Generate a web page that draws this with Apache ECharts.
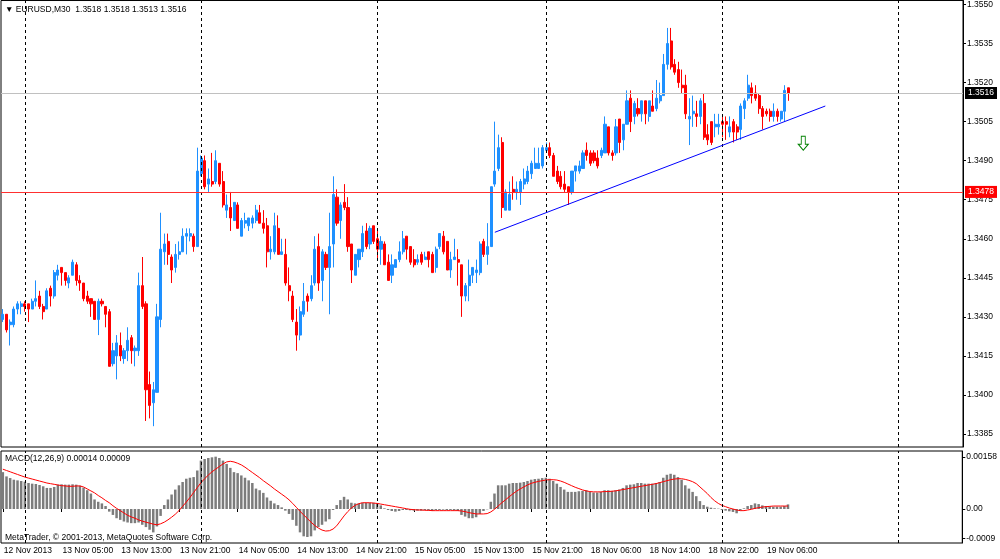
<!DOCTYPE html>
<html>
<head>
<meta charset="utf-8">
<script src="https://cdn.jsdelivr.net/npm/echarts@6/dist/echarts.min.js"></script>
<style>
  html, body { margin: 0; padding: 0; background: #fff; }
  #main { width: 1000px; height: 559px; }
</style>
</head>
<body>
<div id="main"></div>
<script>
// EURUSD M30, 12 Nov 21:00 .. 19 Nov 09:00 (one entry per bar)
var opens = [
1.3429,1.3431,1.3427,1.3427,1.3433,1.3434,1.3435,1.3435,1.3433,1.3436,
1.3438,1.3434,1.3433,1.3441,1.3438,1.3446,1.3449,1.3447,1.3443,1.3446,
1.3450,1.3444,1.3443,1.3438,1.3437,1.3436,1.3429,1.3436,1.3434,1.3432,
1.3412,1.3415,1.3419,1.3414,1.3417,1.3422,1.3417,1.3417,1.3442,1.3435,
1.3404,1.3397,1.3401,1.3429,1.3455,1.3459,1.3453,1.3449,1.3454,1.3455,
1.3461,1.3461,1.3461,1.3457,1.3485,1.3490,1.3481,1.3482,1.3482,1.3489,
1.3482,1.3471,1.3472,1.3467,1.3473,1.3461,1.3466,1.3465,1.3466,1.3467,
1.3470,1.3466,1.3465,1.3455,1.3455,1.3464,1.3454,1.3454,1.3442,1.3438,
1.3428,1.3423,1.3431,1.3438,1.3437,1.3443,1.3457,1.3444,1.3454,1.3449,
1.3458,1.3476,1.3467,1.3474,1.3472,1.3458,1.3446,1.3452,1.3455,1.3463,
1.3458,1.3465,1.3460,1.3456,1.3458,1.3451,1.3446,1.3449,1.3452,1.3455,
1.3461,1.3457,1.3452,1.3451,1.3454,1.3452,1.3455,1.3454,1.3449,1.3457,
1.3461,1.3459,1.3448,1.3452,1.3452,1.3450,1.3438,1.3442,1.3446,1.3447,
1.3447,1.3459,1.3454,1.3457,1.3481,1.3487,1.3497,1.3471,1.3471,1.3479,
1.3478,1.3478,1.3481,1.3482,1.3485,1.3487,1.3487,1.3488,1.3494,1.3495,
1.3492,1.3486,1.3484,1.3481,1.3480,1.3478,1.3486,1.3486,1.3487,1.3494,
1.3493,1.3493,1.3491,1.3492,1.3493,1.3503,1.3493,1.3493,1.3506,1.3498,
1.3504,1.3514,1.3507,1.3510,1.3508,1.3513,1.3507,1.3511,1.3510,1.3513,
1.3515,1.3527,1.3536,1.3527,1.3525,1.3519,1.3519,1.3506,1.3508,1.3508,
1.3507,1.3512,1.3500,1.3505,1.3503,1.3503,1.3505,1.3505,1.3501,1.3505,
1.3503,1.3502,1.3510,1.3514,1.3518,1.3516,1.3515,1.3510,1.3509,1.3509,
1.3507,1.3509,1.3506,1.3509,1.3518
];
var closes = [
1.3431,1.3425,1.3428,1.3433,1.3435,1.3435,1.3434,1.3433,1.3436,1.3437,
1.3434,1.3432,1.3440,1.3438,1.3447,1.3448,1.3447,1.3444,1.3445,1.3451,
1.3444,1.3443,1.3437,1.3436,1.3435,1.3429,1.3436,1.3435,1.3431,1.3411,
1.3417,1.3420,1.3415,1.3417,1.3421,1.3417,1.3418,1.3442,1.3434,1.3402,
1.3396,1.3402,1.3430,1.3456,1.3458,1.3454,1.3448,1.3454,1.3455,1.3461,
1.3462,1.3462,1.3457,1.3486,1.3491,1.3480,1.3483,1.3481,1.3490,1.3481,
1.3473,1.3473,1.3468,1.3474,1.3464,1.3467,1.3467,1.3468,1.3468,1.3471,
1.3466,1.3464,1.3455,1.3456,1.3465,1.3454,1.3455,1.3443,1.3440,1.3429,
1.3423,1.3432,1.3436,1.3436,1.3442,1.3456,1.3443,1.3455,1.3449,1.3457,
1.3477,1.3466,1.3473,1.3472,1.3457,1.3448,1.3454,1.3456,1.3462,1.3457,
1.3464,1.3459,1.3456,1.3459,1.3450,1.3444,1.3450,1.3452,1.3455,1.3460,
1.3456,1.3451,1.3450,1.3452,1.3451,1.3453,1.3452,1.3447,1.3456,1.3462,
1.3455,1.3448,1.3452,1.3453,1.3451,1.3438,1.3442,1.3446,1.3449,1.3448,
1.3458,1.3454,1.3457,1.3480,1.3486,1.3495,1.3472,1.3478,1.3477,1.3478,
1.3479,1.3482,1.3483,1.3486,1.3489,1.3489,1.3489,1.3495,1.3495,1.3492,
1.3484,1.3482,1.3480,1.3479,1.3478,1.3486,1.3488,1.3488,1.3493,1.3492,
1.3489,1.3490,1.3488,1.3494,1.3504,1.3493,1.3492,1.3503,1.3497,1.3504,
1.3513,1.3505,1.3512,1.3508,1.3513,1.3508,1.3513,1.3509,1.3514,1.3515,
1.3527,1.3535,1.3526,1.3524,1.3520,1.3518,1.3508,1.3507,1.3509,1.3507,
1.3513,1.3499,1.3498,1.3497,1.3504,1.3504,1.3504,1.3504,1.3503,1.3501,
1.3501,1.3511,1.3513,1.3519,1.3515,1.3514,1.3510,1.3507,1.3508,1.3507,
1.3509,1.3507,1.3509,1.3517,1.3516
];
var lows = [
1.3428,1.3424,1.3419,1.3426,1.3431,1.3431,1.3432,1.3428,1.3433,1.3434,
1.3433,1.3429,1.3433,1.3434,1.3437,1.3444,1.3442,1.3442,1.3441,1.3446,
1.3442,1.3440,1.3436,1.3435,1.3430,1.3429,1.3423,1.3434,1.3426,1.3411,
1.3411,1.3406,1.3413,1.3412,1.3413,1.3412,1.3411,1.3415,1.3433,1.3390,
1.3391,1.3388,1.3401,1.3426,1.3450,1.3450,1.3443,1.3447,1.3452,1.3455,
1.3454,1.3459,1.3455,1.3457,1.3484,1.3479,1.3478,1.3480,1.3481,1.3480,
1.3472,1.3468,1.3463,1.3467,1.3464,1.3461,1.3464,1.3463,1.3464,1.3466,
1.3466,1.3462,1.3449,1.3452,1.3454,1.3454,1.3454,1.3442,1.3436,1.3428,
1.3417,1.3421,1.3430,1.3432,1.3436,1.3442,1.3440,1.3436,1.3448,1.3431,
1.3449,1.3465,1.3460,1.3471,1.3455,1.3443,1.3446,1.3449,1.3453,1.3456,
1.3456,1.3458,1.3452,1.3450,1.3450,1.3444,1.3443,1.3449,1.3451,1.3454,
1.3452,1.3450,1.3449,1.3450,1.3450,1.3452,1.3449,1.3447,1.3447,1.3456,
1.3454,1.3448,1.3445,1.3452,1.3442,1.3430,1.3436,1.3436,1.3443,1.3443,
1.3446,1.3453,1.3450,1.3457,1.3480,1.3486,1.3468,1.3471,1.3471,1.3475,
1.3475,1.3473,1.3479,1.3481,1.3483,1.3487,1.3487,1.3487,1.3493,1.3491,
1.3484,1.3481,1.3479,1.3478,1.3473,1.3477,1.3482,1.3485,1.3487,1.3490,
1.3488,1.3489,1.3487,1.3491,1.3493,1.3492,1.3490,1.3492,1.3493,1.3494,
1.3504,1.3501,1.3504,1.3507,1.3505,1.3504,1.3505,1.3509,1.3509,1.3512,
1.3515,1.3525,1.3525,1.3523,1.3518,1.3516,1.3506,1.3496,1.3503,1.3503,
1.3504,1.3498,1.3496,1.3496,1.3499,1.3500,1.3499,1.3498,1.3499,1.3497,
1.3498,1.3498,1.3506,1.3513,1.3512,1.3513,1.3508,1.3502,1.3507,1.3505,
1.3505,1.3505,1.3505,1.3505,1.3513
];
var highs = [
1.3433,1.3431,1.3429,1.3434,1.3436,1.3436,1.3436,1.3435,1.3437,1.3444,
1.3440,1.3435,1.3441,1.3442,1.3448,1.3450,1.3449,1.3447,1.3446,1.3452,
1.3451,1.3446,1.3443,1.3440,1.3437,1.3436,1.3437,1.3437,1.3434,1.3433,
1.3420,1.3423,1.3424,1.3418,1.3426,1.3423,1.3419,1.3447,1.3453,1.3436,
1.3409,1.3405,1.3435,1.3470,1.3462,1.3462,1.3454,1.3458,1.3459,1.3464,
1.3464,1.3464,1.3462,1.3495,1.3492,1.3492,1.3487,1.3493,1.3494,1.3489,
1.3486,1.3477,1.3478,1.3474,1.3474,1.3468,1.3470,1.3468,1.3469,1.3473,
1.3473,1.3471,1.3468,1.3461,1.3470,1.3469,1.3460,1.3460,1.3449,1.3440,
1.3433,1.3434,1.3443,1.3439,1.3446,1.3461,1.3462,1.3456,1.3455,1.3470,
1.3484,1.3479,1.3474,1.3481,1.3476,1.3458,1.3454,1.3456,1.3465,1.3466,
1.3465,1.3465,1.3463,1.3461,1.3459,1.3454,1.3454,1.3452,1.3459,1.3463,
1.3461,1.3457,1.3456,1.3454,1.3455,1.3455,1.3455,1.3455,1.3457,1.3462,
1.3463,1.3459,1.3455,1.3460,1.3456,1.3450,1.3443,1.3452,1.3449,1.3452,
1.3459,1.3460,1.3466,1.3480,1.3505,1.3500,1.3499,1.3479,1.3482,1.3484,
1.3482,1.3483,1.3487,1.3488,1.3490,1.3495,1.3495,1.3496,1.3497,1.3497,
1.3493,1.3488,1.3486,1.3486,1.3480,1.3486,1.3488,1.3490,1.3494,1.3497,
1.3494,1.3494,1.3494,1.3495,1.3507,1.3503,1.3494,1.3506,1.3506,1.3504,
1.3517,1.3517,1.3513,1.3514,1.3513,1.3513,1.3513,1.3517,1.3521,1.3520,
1.3531,1.3541,1.3541,1.3529,1.3528,1.3525,1.3523,1.3514,1.3515,1.3513,
1.3514,1.3516,1.3504,1.3505,1.3508,1.3508,1.3507,1.3507,1.3507,1.3506,
1.3504,1.3512,1.3514,1.3523,1.3520,1.3519,1.3516,1.3511,1.3510,1.3510,
1.3512,1.3510,1.3509,1.3519,1.3518
];

// MACD(12,26,9): main value (histogram) and signal line
var macdMain = [
0.00112,0.00099,0.00094,0.00089,0.00087,0.00085,0.00083,0.00079,0.00077,0.00076,
0.00073,0.00069,0.00064,0.00064,0.00067,0.00074,0.00075,0.00074,0.00074,0.00075,
0.00074,0.00071,0.00065,0.00057,0.00047,0.00029,0.00022,0.00017,0.00009,-0.00008,
-0.00018,-0.00028,-0.00033,-0.00038,-0.00041,-0.00043,-0.00043,-0.00041,-0.00048,-0.00055,
-0.00063,-0.00071,-0.00053,-0.00021,0.00012,0.00029,0.00044,0.00059,0.00072,0.00082,
0.00092,0.00095,0.00097,0.00117,0.00147,0.00152,0.00155,0.00157,0.00159,0.00155,
0.00147,0.00137,0.00125,0.00112,0.00109,0.00102,0.00095,0.00087,0.00079,0.00062,
0.00057,0.00049,0.00035,0.00025,0.00017,0.00012,0.00005,-0.00005,-0.00015,-0.00033,
-0.00051,-0.00071,-0.00083,-0.00085,-0.00083,-0.00065,-0.00055,-0.00048,-0.00038,-0.00031,
-0.00003,0.00012,0.00027,0.00037,0.00029,0.00019,0.00017,0.00017,0.00019,0.00019,
0.00019,0.00019,0.00017,0.00011,0.00002,-0.00003,-0.00006,-0.00008,-0.00006,-0.00003,
-0.00003,-0.00004,-0.00005,-0.00005,-0.00005,-0.00003,-0.00005,-0.00006,-0.00003,-0.00003,
-0.00002,-0.00003,-0.00003,-0.00004,-0.00006,-0.00018,-0.00023,-0.00028,-0.00028,-0.00025,
-0.00015,-0.00006,-0.00001,0.00022,0.00047,0.00072,0.00072,0.00072,0.00077,0.00079,
0.00079,0.00080,0.00082,0.00085,0.00089,0.00091,0.00092,0.00094,0.00095,0.00092,
0.00085,0.00077,0.00067,0.00059,0.00052,0.00052,0.00052,0.00054,0.00055,0.00057,
0.00052,0.00050,0.00050,0.00052,0.00057,0.00057,0.00055,0.00057,0.00059,0.00064,
0.00072,0.00074,0.00075,0.00079,0.00079,0.00077,0.00077,0.00077,0.00079,0.00082,
0.00095,0.00104,0.00107,0.00104,0.00097,0.00089,0.00072,0.00062,0.00052,0.00039,
0.00024,0.00012,0.00007,0.00004,0.00002,0.00001,-0.00003,-0.00005,-0.00007,-0.00009,
-0.00013,-0.00005,0.00002,0.00009,0.00012,0.00017,0.00015,0.00011,0.00009,0.00008,
0.00007,0.00007,0.00007,0.00009,0.00014
];
var macdSignal = [
0.00121,0.00117,0.00113,0.00109,0.00105,0.00101,0.00097,0.00094,0.00091,0.00088,
0.00085,0.00082,0.00079,0.00077,0.00075,0.00073,0.00071,0.00070,0.00069,0.00069,
0.00070,0.00070,0.00067,0.00061,0.00055,0.00049,0.00041,0.00034,0.00026,0.00019,
0.00010,0.00002,-0.00005,-0.00012,-0.00019,-0.00024,-0.00028,-0.00033,-0.00037,-0.00040,
-0.00043,-0.00046,-0.00048,-0.00045,-0.00040,-0.00033,-0.00025,-0.00016,-0.00005,0.00008,
0.00021,0.00035,0.00050,0.00065,0.00080,0.00092,0.00103,0.00113,0.00121,0.00129,
0.00137,0.00143,0.00145,0.00143,0.00139,0.00134,0.00127,0.00119,0.00111,0.00103,
0.00095,0.00086,0.00078,0.00070,0.00061,0.00053,0.00045,0.00037,0.00028,0.00017,
0.00005,-0.00007,-0.00018,-0.00029,-0.00040,-0.00050,-0.00058,-0.00064,-0.00067,-0.00066,
-0.00061,-0.00051,-0.00036,-0.00021,-0.00008,0.00003,0.00011,0.00016,0.00019,0.00019,
0.00019,0.00018,0.00017,0.00015,0.00013,0.00011,0.00009,0.00007,0.00005,0.00003,
0.00001,-0.00001,-0.00002,-0.00003,-0.00003,-0.00004,-0.00004,-0.00005,-0.00005,-0.00005,
-0.00005,-0.00005,-0.00005,-0.00005,-0.00005,-0.00006,-0.00008,-0.00011,-0.00013,-0.00015,
-0.00015,-0.00015,-0.00014,-0.00009,-0.00001,0.00009,0.00019,0.00028,0.00037,0.00046,
0.00054,0.00061,0.00067,0.00073,0.00078,0.00081,0.00084,0.00086,0.00088,0.00089,
0.00089,0.00088,0.00085,0.00081,0.00076,0.00071,0.00066,0.00062,0.00058,0.00055,
0.00053,0.00052,0.00052,0.00052,0.00053,0.00053,0.00054,0.00055,0.00057,0.00059,
0.00061,0.00063,0.00065,0.00067,0.00069,0.00071,0.00073,0.00075,0.00077,0.00080,
0.00083,0.00086,0.00089,0.00091,0.00092,0.00092,0.00090,0.00087,0.00083,0.00077,
0.00067,0.00057,0.00047,0.00035,0.00025,0.00017,0.00011,0.00007,0.00003,0.00000,
-0.00003,-0.00005,-0.00005,-0.00003,-0.00001,0.00002,0.00004,0.00006,0.00007,0.00008,
0.00009,0.00009,0.00009,0.00009,0.00009
];

// axis labels and chart objects
var timeLabels = ['12 Nov 2013','13 Nov 05:00','13 Nov 13:00','13 Nov 21:00','14 Nov 05:00','14 Nov 13:00',
  '14 Nov 21:00','15 Nov 05:00','15 Nov 13:00','15 Nov 21:00','18 Nov 06:00','18 Nov 14:00','18 Nov 22:00','19 Nov 06:00'];
var labelStep = 16;       // bars between time labels
var slotCount = 262;      // bars that fit the window, incl. empty space on the right
var dayBreaks = ['6','54','102','148','196','244']; // bars at 00:00
var priceTicks = [1.3385,1.3400,1.3415,1.3430,1.3445,1.3460,1.3475,1.3490,1.3505,1.3520,1.3535,1.3550];
var macdTicks = [0.00158, 0, -0.0009];
var macdTickLabels = ['0.00158', '0.00', '-0.0009'];
var bidPrice = 1.3516;
var levelPrice = 1.3478;
var trendStart = ['134', 1.34625];
var trendEnd = ['224', 1.35110];
var arrowPoint = ['218', 1.34967];

var categories = [];
for (var i = 0; i < slotCount; i++) categories.push(String(i));

var candles = opens.map(function (o, i) {
    return [o, closes[i], lows[i], highs[i]];
});

var FONT = 'Liberation Sans';
var isLabel = function (idx) { return idx % labelStep === 0 && idx / labelStep < timeLabels.length; };

var dashed = { color: '#000', type: [3, 3], width: 1 };
var dayLines = dayBreaks.map(function (d) {
    return { xAxis: d, lineStyle: dashed };
});

function priceTag(bg) {
    return {
        show: true, position: 'end', distance: 2,
        formatter: function (p) { return Number(p.value).toFixed(4); },
        backgroundColor: bg, color: '#fff', padding: [2, 3, 1, 3], fontSize: 8.5, fontFamily: FONT
    };
}

var chart = echarts.init(document.getElementById('main'));

var option = {
    animation: false,
    backgroundColor: '#fff',
    textStyle: { fontFamily: FONT },
    grid: [
        { left: 1, top: 0, width: 962, height: 447, show: true, borderColor: '#000', borderWidth: 1, backgroundColor: '#fff' },
        { left: 1, top: 451, width: 962, height: 92, show: true, borderColor: '#000', borderWidth: 1, backgroundColor: '#fff' }
    ],
    xAxis: [
        {
            type: 'category', gridIndex: 0, data: categories, boundaryGap: true,
            axisLine: { show: false }, axisTick: { show: false }, axisLabel: { show: false }, splitLine: { show: false }
        },
        {
            type: 'category', gridIndex: 1, data: categories, boundaryGap: true,
            axisLine: { show: false },
            axisTick: { show: true, alignWithLabel: true, interval: isLabel, length: 3, lineStyle: { color: '#000' } },
            axisLabel: {
                interval: isLabel, align: 'left', margin: 3, color: '#000', fontSize: 8.5, fontFamily: FONT,
                padding: [0, 0, 0, 1],
                formatter: function (v, idx) { return timeLabels[idx / labelStep] || ''; }
            },
            splitLine: { show: false }
        }
    ],
    yAxis: [
        {
            type: 'value', gridIndex: 0, position: 'right', min: 1.338001, max: 1.355153,
            axisLine: { show: true, lineStyle: { color: '#000' } },
            axisTick: { show: true, customValues: priceTicks, length: 3, lineStyle: { color: '#000' } },
            axisLabel: {
                customValues: priceTicks, margin: 4, color: '#000', fontSize: 8.5, fontFamily: FONT,
                formatter: function (v) { return v.toFixed(4); }
            },
            splitLine: { show: false }
        },
        {
            type: 'value', gridIndex: 1, position: 'right', min: -0.001033, max: 0.0017623,
            axisLine: { show: true, lineStyle: { color: '#000' } },
            axisTick: { show: true, customValues: macdTicks, length: 3, lineStyle: { color: '#000' } },
            axisLabel: {
                customValues: macdTicks, margin: 4, color: '#000', fontSize: 8.5, fontFamily: FONT,
                formatter: function (v) {
                    for (var k = 0; k < macdTicks.length; k++) if (Math.abs(v - macdTicks[k]) < 1e-9) return macdTickLabels[k];
                    return '';
                }
            },
            splitLine: { show: false }
        }
    ],
    series: [
        {
            // chart objects: day separators, price levels, trend line, arrow
            name: 'objects', type: 'line', xAxisIndex: 0, yAxisIndex: 0, data: [],
            markLine: {
                silent: true, symbol: 'none', animation: false, precision: 5,
                label: { show: false },
                data: dayLines.concat([
                    { yAxis: levelPrice, lineStyle: { color: '#ff3030', type: 'solid', width: 1.2 }, label: priceTag('#ff0000') },
                    { yAxis: bidPrice, lineStyle: { color: '#c0c0c0', type: 'solid', width: 1 }, label: priceTag('#000') },
                    [
                        { coord: trendStart, lineStyle: { color: '#0000ff', type: 'solid', width: 1 } },
                        { coord: trendEnd }
                    ]
                ])
            },
            markPoint: {
                silent: true, animation: false,
                data: [{
                    coord: arrowPoint,
                    symbol: 'path://M3,0 L7,0 L7,8 L10,8 L5,14 L0,8 L3,8 Z',
                    symbolSize: [10, 14],
                    itemStyle: { color: '#fff', borderColor: '#008000', borderWidth: 1 },
                    label: { show: false }
                }]
            }
        },
        {
            name: 'EURUSD', type: 'candlestick', xAxisIndex: 0, yAxisIndex: 0,
            data: candles, barWidth: 2.6, z: 3,
            itemStyle: {
                color: '#1E90FF', color0: '#FF0000',
                borderColor: '#1E90FF', borderColor0: '#FF0000', borderWidth: 1
            }
        },
        {
            name: 'MACD', type: 'bar', xAxisIndex: 1, yAxisIndex: 1,
            data: macdMain, barWidth: 2.5,
            itemStyle: { color: '#7c7c7c' },
            markLine: {
                silent: true, symbol: 'none', animation: false,
                label: { show: false },
                data: dayLines
            }
        },
        {
            name: 'Signal', type: 'line', xAxisIndex: 1, yAxisIndex: 1,
            data: macdSignal, showSymbol: false, symbol: 'none',
            lineStyle: { color: '#ff0000', width: 1 }
        }
    ],
    graphic: [
        { type: 'text', left: 5, top: 5, style: { text: '\u25BC EURUSD,M30  1.3518 1.3518 1.3513 1.3516', fill: '#000', font: '8.5px "Liberation Sans"' } },
        { type: 'text', left: 5, top: 454, style: { text: 'MACD(12,26,9) 0.00014 0.00009', fill: '#000', font: '8.5px "Liberation Sans"' } },
        { type: 'text', left: 5, top: 533, style: { text: 'MetaTrader, \u00A9 2001-2013, MetaQuotes Software Corp.', fill: '#000', font: '8.5px "Liberation Sans"' } }
    ]
};

chart.setOption(option);
</script>
</body>
</html>
